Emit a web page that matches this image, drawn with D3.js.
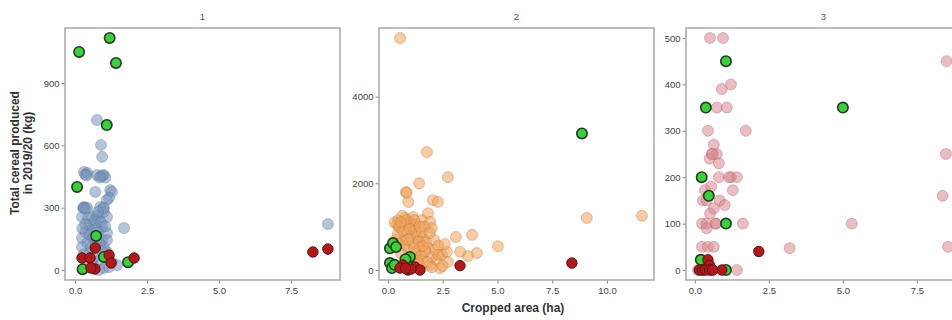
<!DOCTYPE html>
<html>
<head>
<meta charset="utf-8">
<script src="https://cdn.jsdelivr.net/npm/d3@7"></script>
<style>
  html, body { margin: 0; padding: 0; background: #fff; }
  svg { display: block; font-family: "Liberation Sans", Arial, sans-serif; }
</style>
</head>
<body>
<svg id="chart" width="952" height="320"></svg>
<script>
// Facet labels
const facetLabels = ["1", "2", "3"];

// Facet 1: [cropped area (ha), total cereal (kg)]
const facet1Base = [[0.76,722],[0.90,602],[0.94,545],[0.31,472],[0.42,467],[0.35,460],[0.76,457],[1.00,457],[0.90,450],[1.05,445],
  [0.70,376],[1.22,385],[1.28,376],[1.18,347],[1.10,337],[0.31,303],[0.42,300],[0.28,298],[0.87,303],[0.98,298],[1.00,280],
  [0.24,255],[0.59,255],[0.83,250],[1.11,255],[0.76,262],[0.49,217],[0.94,207],[0.65,225],[1.70,202],[0.35,183],[0.55,190],
  [1.11,178],[0.80,185],[0.24,154],[0.94,144],[1.11,144],[0.60,150],[0.42,130],[0.24,111],[1.00,111],[0.70,120],[0.52,82],
  [1.11,87],[0.30,75],[0.87,48],[1.28,38],[1.00,10],[1.18,14],[1.46,24],[0.83,0],[0.60,30],[0.40,40],[8.78,221],
  [0.30,300],[0.36,296],[0.95,455],[0.85,445],[0.45,250],[0.70,240],[0.75,200],[0.50,170],[0.65,160],[0.85,130],
  [0.55,110],[0.35,220],[0.90,230],[1.05,210],[0.65,60],[0.95,90],[0.25,200],[0.40,455],[1.00,300],[0.80,280]];
const facet1Green = [[0.14,1050],[1.20,1117],[1.42,997],[1.10,698],[0.07,400],[0.73,164],[0.26,4],[1.84,38],[1.00,63]];
const facet1Red = [[8.78,101],[8.26,87],[2.05,58],[0.24,58],[0.52,58],[0.70,106],[0.69,5],[1.18,72],[1.25,34],[0.55,10]];

// Facet 2
const facet2Base = [[0.55,5350],[1.78,2720],[2.74,2140],[1.42,2000],[0.82,1800],[0.93,1570],[2.05,1610],[2.28,1570],[9.08,1200],
  [11.6,1250],[3.10,760],[3.84,810],[5.02,550],[4.06,390],[3.65,320],[3.29,420],[0.46,1150],[0.78,1200],[1.14,1220],[1.55,1150],
  [1.83,1310],[1.92,1110],[2.00,970],[0.55,970],[1.10,990],[0.87,850],[1.32,760],[1.60,740],[0.68,690],[1.14,620],[1.46,530],
  [1.83,510],[2.15,460],[2.47,350],[2.69,420],[2.74,185],[2.37,45],[1.92,115],[1.60,275],[1.46,45],[0.40,1050],[0.30,1100],
  [0.65,1250],[1.00,1100],[1.25,1050],[1.65,1000],[0.45,820],[0.75,560],[1.00,780],[1.25,900],[1.55,870],[1.75,640],[2.10,700],
  [2.30,560],[0.95,450],[1.25,380],[1.50,330],[2.00,300],[2.20,240],[0.60,380],[1.80,180],[2.00,60],[2.50,90],[1.10,260],
  [0.35,700],[0.50,600],[1.70,430],[2.60,600],[1.35,220],[0.50,1000],[0.85,1150],[1.20,1150],[0.70,900],[1.40,650],
  [1.60,550],[1.90,850],[0.90,700],[1.20,500],[1.40,150],[2.30,350],[0.85,1780],[1.00,950],[0.60,1100],[1.45,1000]];
const facet2Green = [[8.86,3150],[0.09,500],[0.23,620],[0.37,530],[1.00,300],[0.09,160],[0.18,45],[0.30,120],[0.80,250]];
const facet2Red = [[3.29,100],[8.40,160],[0.68,115],[0.91,0],[1.23,70],[1.46,0],[0.55,45],[1.05,20],[0.80,40]];

// Facet 3
const facet3Base = [[0.51,500],[0.95,500],[0.91,390],[1.22,400],[0.74,350],[1.08,350],[0.44,300],[1.72,300],[8.50,450],[8.48,250],
  [8.37,160],[8.55,50],[5.30,100],[3.20,47],[1.42,0],[0.64,270],[0.57,250],[0.74,250],[0.81,230],[0.50,240],[0.81,200],[1.22,200],
  [1.42,200],[1.28,172],[0.34,172],[0.27,150],[0.40,150],[0.84,150],[1.01,140],[0.51,122],[0.64,133],[0.24,100],[0.40,100],
  [0.71,100],[1.62,100],[0.40,90],[0.24,50],[0.44,50],[0.64,50],[0.10,0],[0.30,0],[0.55,0],[0.60,250],[1.15,200],[0.55,180],[0.70,100]];
const facet3Green = [[1.05,450],[0.37,350],[5.00,350],[0.23,200],[0.47,160],[1.05,100],[0.20,22],[1.05,0]];
const facet3Red = [[2.16,40],[0.44,22],[0.50,10],[0.15,0],[0.25,0],[0.35,0],[0.50,0],[0.91,0],[0.60,0]];

// Axis ticks per facet
const facet1XTicks = [0, 2.5, 5, 7.5];
const facet1YTicks = [0, 300, 600, 900];
const facet2XTicks = [0, 2.5, 5, 7.5, 10];
const facet2YTicks = [0, 2000, 4000];
const facet3XTicks = [0, 2.5, 5, 7.5];
const facet3YTicks = [0, 100, 200, 300, 400, 500];

const xTitle = "Cropped area (ha)";
const yTitleLines = ["Total cereal produced", "in 2019/20 (kg)"];

const panels = [
  { label: facetLabels[0], left: 65,  right: 340, xDom: [-0.35, 9.2],  yDom: [-48, 1165],  xt: facet1XTicks, yt: facet1YTicks,
    base: facet1Base, green: facet1Green, red: facet1Red, fill: "#7893bb", stroke: "#506c96" },
  { label: facetLabels[1], left: 379, right: 654, xDom: [-0.41, 12.15], yDom: [-231, 5582], xt: facet2XTicks, yt: facet2YTicks,
    base: facet2Base, green: facet2Green, red: facet2Red, fill: "#f0a058", stroke: "#b07038" },
  { label: facetLabels[2], left: 686, right: 961, xDom: [-0.30, 8.99], yDom: [-21.5, 521.5], xt: facet3XTicks, yt: facet3YTicks,
    base: facet3Base, green: facet3Green, red: facet3Red, fill: "#d98790", stroke: "#a85a64" }
];

const plotTop = 28, plotBottom = 280, r = 5.2;
const svg = d3.select("#chart");
const fmtX = d3.format(".1f");

panels.forEach(p => {
  const x = d3.scaleLinear().domain(p.xDom).range([p.left, p.right]);
  const y = d3.scaleLinear().domain(p.yDom).range([plotBottom, plotTop]);
  const g = svg.append("g");

  // facet title
  g.append("text")
    .attr("x", (p.left + p.right) / 2).attr("y", 20)
    .attr("text-anchor", "middle").attr("font-size", 9.5).attr("fill", "#555")
    .text(p.label);

  // axes
  const ya = g.append("g").attr("transform", `translate(${p.left},0)`)
    .call(d3.axisLeft(y).tickValues(p.yt).tickSize(3.5).tickPadding(2).tickFormat(d3.format("d")));
  const xa = g.append("g").attr("transform", `translate(0,${plotBottom})`)
    .call(d3.axisBottom(x).tickValues(p.xt).tickSize(3.5).tickPadding(4).tickFormat(fmtX));
  [ya, xa].forEach(a => {
    a.select(".domain").remove();
    a.selectAll(".tick line").attr("stroke", "#888");
    a.selectAll(".tick text").attr("fill", "#444").attr("font-size", 9.5)
      .attr("font-family", "Liberation Sans, Arial, sans-serif");
  });

  // clip to panel
  const clipId = "clip" + p.label;
  svg.append("clipPath").attr("id", clipId)
    .append("rect").attr("x", p.left).attr("y", plotTop).attr("width", p.right - p.left).attr("height", plotBottom - plotTop);
  const pts = g.append("g").attr("clip-path", `url(#${clipId})`);

  pts.selectAll("circle.base").data(p.base).join("circle")
    .attr("class", "base")
    .attr("cx", d => x(d[0])).attr("cy", d => y(d[1])).attr("r", r + 0.3)
    .attr("fill", p.fill).attr("fill-opacity", 0.55)
    .attr("stroke", p.stroke).attr("stroke-opacity", 0.45).attr("stroke-width", 0.8);

  pts.selectAll("circle.green").data(p.green).join("circle")
    .attr("class", "green")
    .attr("cx", d => x(d[0])).attr("cy", d => y(d[1])).attr("r", r)
    .attr("fill", "#3ccf3c").attr("stroke", "#1f3d1f").attr("stroke-width", 1.6);

  pts.selectAll("circle.red").data(p.red).join("circle")
    .attr("class", "red")
    .attr("cx", d => x(d[0])).attr("cy", d => y(d[1])).attr("r", r)
    .attr("fill", "#b3191b").attr("stroke", "#5a1212").attr("stroke-width", 1);

  // panel border
  g.append("rect")
    .attr("x", p.left).attr("y", plotTop).attr("width", p.right - p.left).attr("height", plotBottom - plotTop)
    .attr("fill", "none").attr("stroke", "#a8a8a8").attr("stroke-width", 1.5);
});

// axis titles
svg.append("text")
  .attr("x", 513).attr("y", 312).attr("text-anchor", "middle")
  .attr("font-size", 12).attr("font-weight", "bold").attr("fill", "#333")
  .text(xTitle);

const yt = svg.append("text")
  .attr("transform", "translate(21,153) rotate(-90)")
  .attr("text-anchor", "middle").attr("font-size", 12).attr("font-weight", "bold").attr("fill", "#333");
yt.selectAll("tspan").data(yTitleLines).join("tspan")
  .attr("x", 0).attr("dy", (d, i) => i === 0 ? -2 : 13)
  .text(d => d);
</script>
</body>
</html>
